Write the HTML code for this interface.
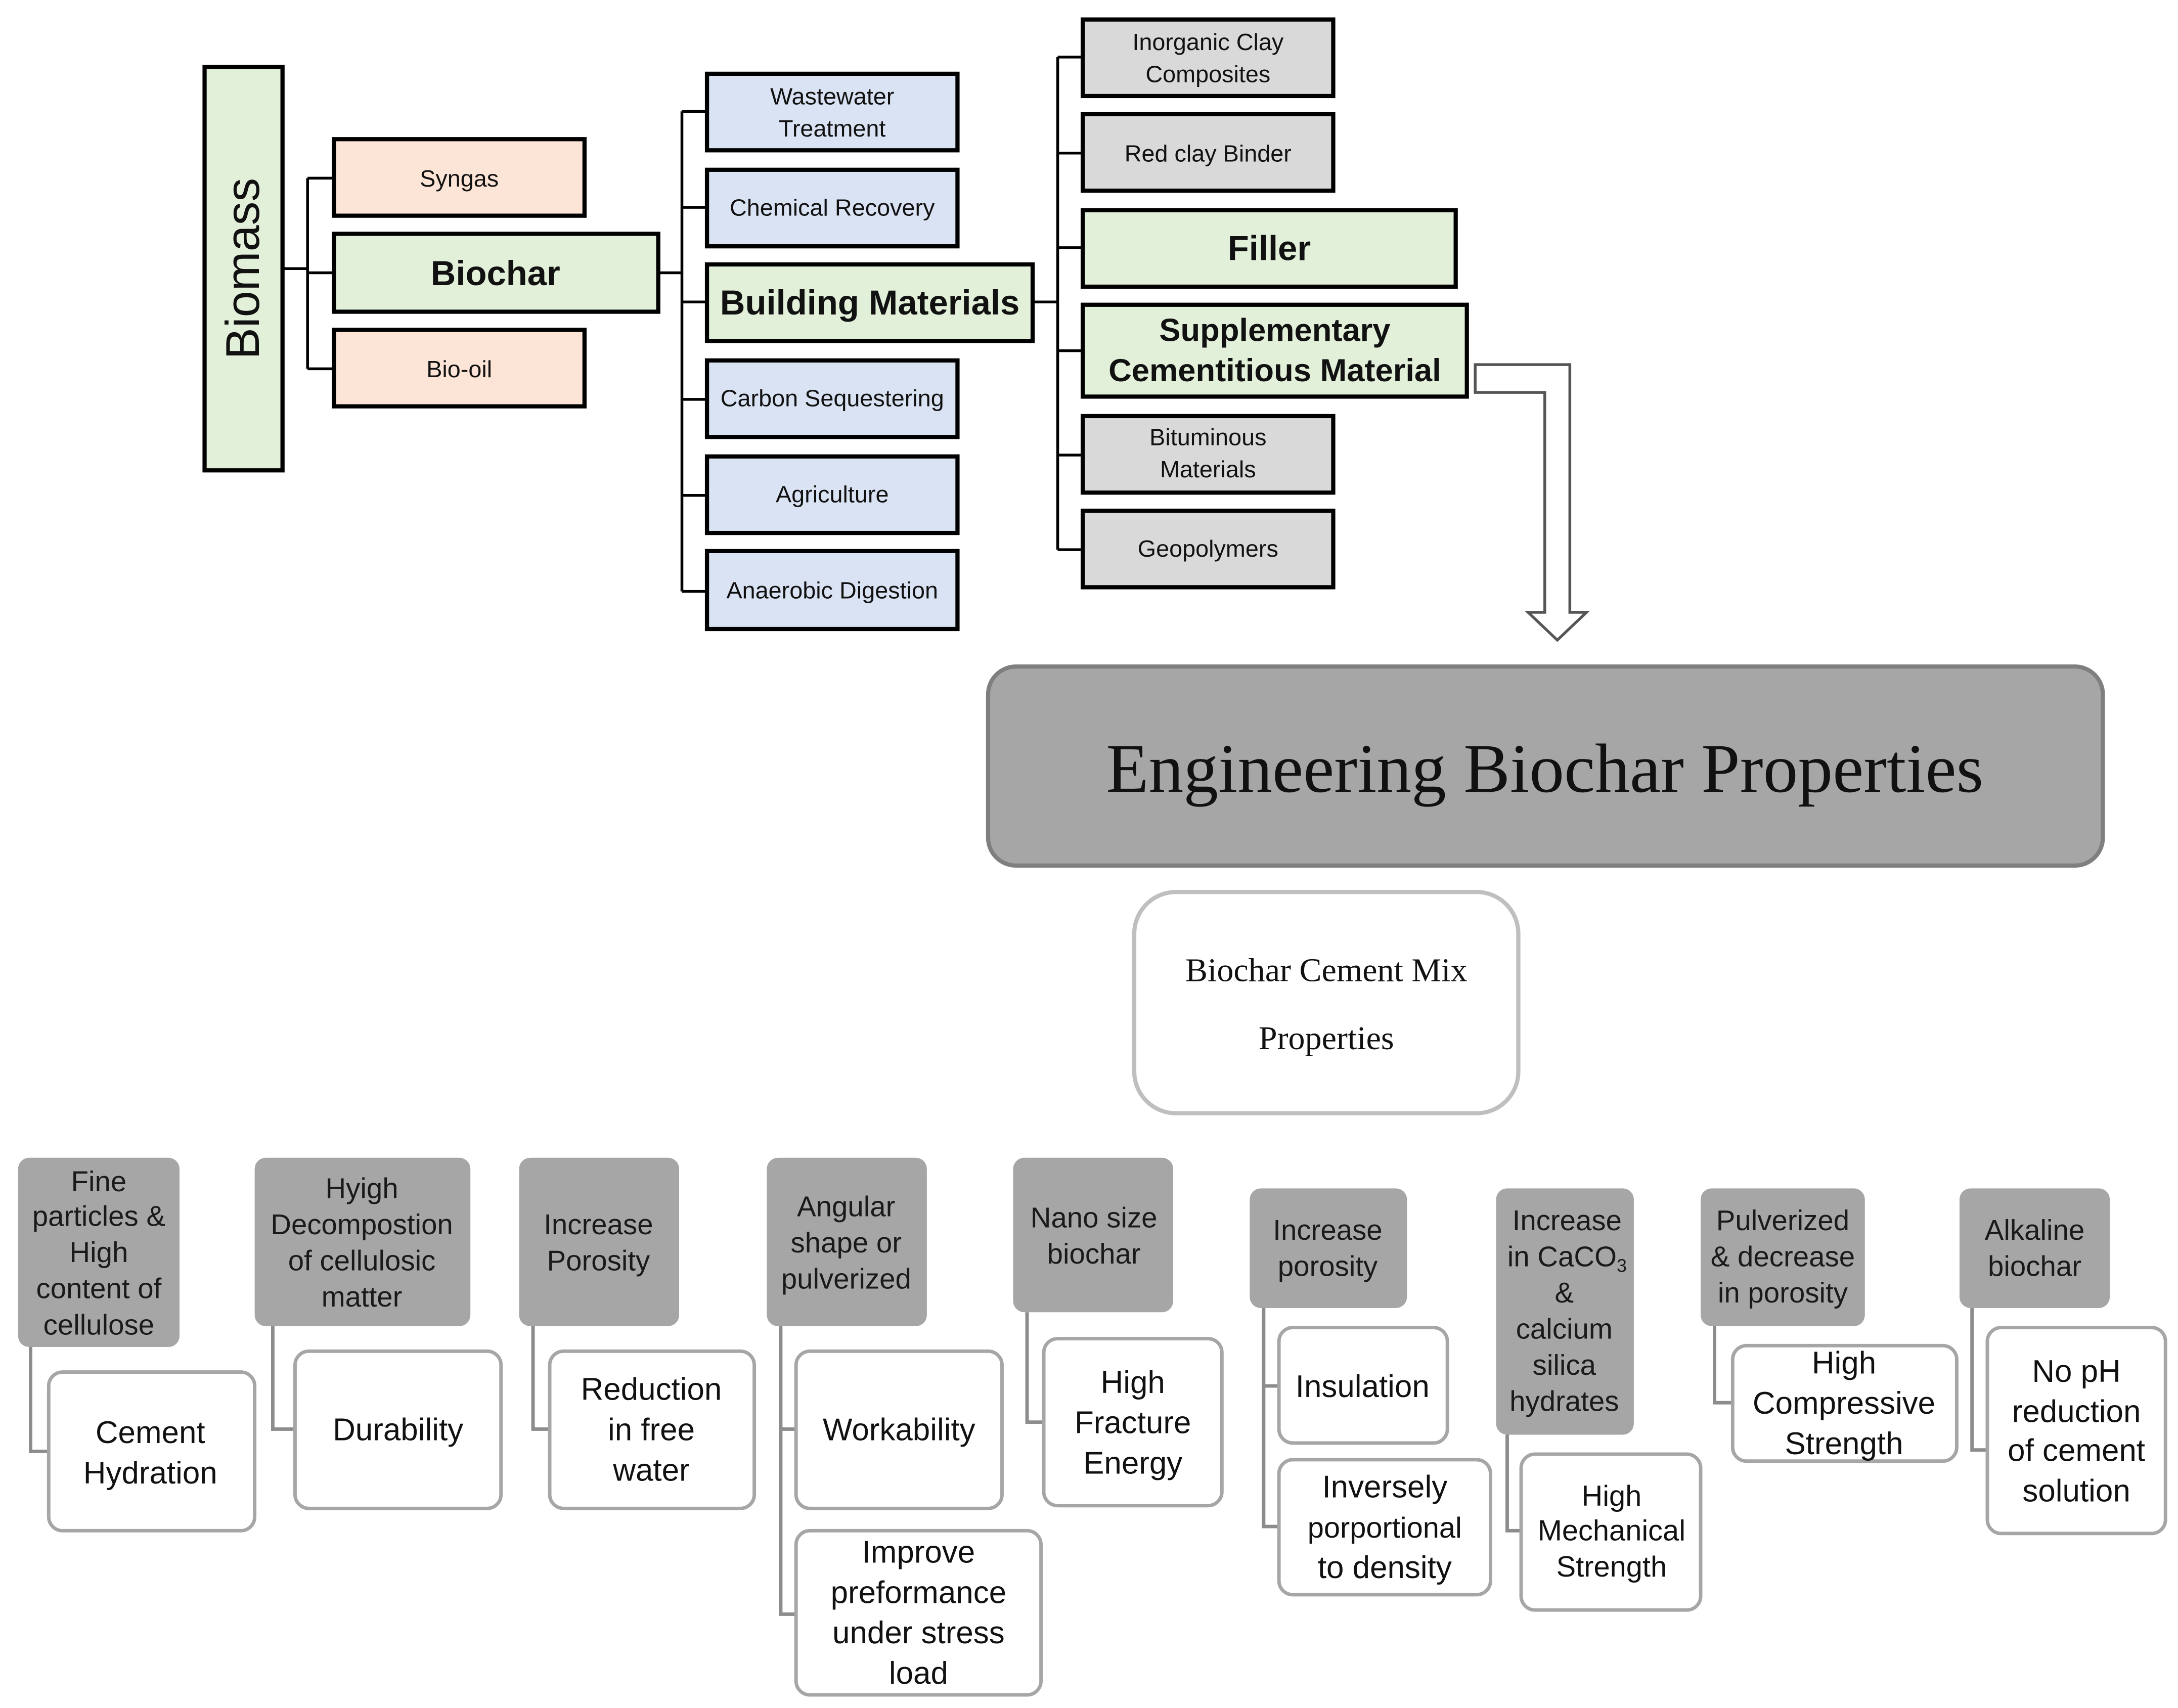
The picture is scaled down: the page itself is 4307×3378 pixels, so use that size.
<!DOCTYPE html>
<html><head><meta charset="utf-8"><style>
html,body{margin:0;padding:0;background:#fff}
svg{display:block}
text{font-family:"Liberation Sans",sans-serif;fill:#111}
.s{font-size:17px}
.b{font-size:25px;font-weight:bold}
.h{font-size:20.5px;fill:#1a1a1a}
.w{font-size:22.5px}
.serif{font-family:"Liberation Serif",serif}
</style></head><body>
<svg width="4307" height="3378" viewBox="0 0 1565 1227.4" xmlns="http://www.w3.org/2000/svg">
<g stroke="#000" stroke-width="2" fill="none">
<!-- level 1 connectors -->
<path d="M203 193H221M221 128V265M221 128H240M221 196H240M221 265H240"/>
<path d="M473 196H490M490 80V425M490 80H508M490 149H508M490 217H508M490 287H508M490 356H508M490 425H508"/>
<path d="M742 217H760M760 41V395M760 41H778M760 110H778M760 178H778M760 252H778M760 327H778M760 395H778"/>
</g>
<g stroke="#000" stroke-width="3">
<rect x="147" y="48" width="56" height="290" fill="#e2f0d9"/>
<rect x="240" y="100" width="180" height="55" fill="#fce4d6"/>
<rect x="240" y="168" width="233" height="56" fill="#e2f0d9"/>
<rect x="240" y="237" width="180" height="55" fill="#fce4d6"/>
<rect x="508" y="53" width="180" height="55" fill="#dae3f3"/>
<rect x="508" y="122" width="180" height="55" fill="#dae3f3"/>
<rect x="508" y="190" width="234" height="55" fill="#e2f0d9"/>
<rect x="508" y="259" width="180" height="55" fill="#dae3f3"/>
<rect x="508" y="328" width="180" height="55" fill="#dae3f3"/>
<rect x="508" y="396" width="180" height="56" fill="#dae3f3"/>
<rect x="778" y="14" width="180" height="55" fill="#d9d9d9"/>
<rect x="778" y="82" width="180" height="55" fill="#d9d9d9"/>
<rect x="778" y="151" width="268" height="55" fill="#e2f0d9"/>
<rect x="778" y="219" width="276" height="66" fill="#e2f0d9"/>
<rect x="778" y="299" width="180" height="55" fill="#d9d9d9"/>
<rect x="778" y="367" width="180" height="55" fill="#d9d9d9"/>
</g>
<text transform="translate(186 193) rotate(-90)" text-anchor="middle" font-size="34">Biomass</text>
<g text-anchor="middle">
<text x="330" y="134" class="s">Syngas</text>
<text x="356" y="205" class="b">Biochar</text>
<text x="330" y="271" class="s">Bio-oil</text>
<text x="598" y="75" class="s">Wastewater</text>
<text x="598" y="98" class="s">Treatment</text>
<text x="598" y="155" class="s">Chemical Recovery</text>
<text x="625" y="226" class="b">Building Materials</text>
<text x="598" y="292" class="s">Carbon Sequestering</text>
<text x="598" y="361" class="s">Agriculture</text>
<text x="598" y="430" class="s">Anaerobic Digestion</text>
<text x="868" y="36" class="s">Inorganic  Clay</text>
<text x="868" y="59" class="s">Composites</text>
<text x="868" y="116" class="s">Red clay Binder</text>
<text x="912" y="187" class="b">Filler</text>
<text x="916" y="245" font-size="23" font-weight="bold">Supplementary</text>
<text x="916" y="274" font-size="23" font-weight="bold">Cementitious Material</text>
<text x="868" y="320" class="s">Bituminous</text>
<text x="868" y="343" class="s">Materials</text>
<text x="868" y="400" class="s">Geopolymers</text>
</g>
<path d="M1060 262H1128V440H1140L1119 460L1098 440H1110V282H1060Z" fill="#fff" stroke="#555" stroke-width="2"/>
<rect x="710" y="479" width="801" height="143" rx="20" fill="#a6a6a6" stroke="#7f7f7f" stroke-width="3"/>
<text x="1110" y="569" text-anchor="middle" class="serif" font-size="50">Engineering Biochar Properties</text>
<rect x="815" y="641" width="276" height="159" rx="30" fill="#fff" stroke="#bfbfbf" stroke-width="3"/>
<text x="953" y="705" text-anchor="middle" class="serif" font-size="24">Biochar Cement Mix</text>
<text x="953" y="754" text-anchor="middle" class="serif" font-size="24">Properties</text>
<!-- bottom connectors -->
<g stroke="#8c8c8c" stroke-width="2.5" fill="none">
<path d="M22 968V1043H35"/>
<path d="M196 953V1027H212"/>
<path d="M383 953V1027H395"/>
<path d="M561 953V1160H572M561 1027H572"/>
<path d="M738 943V1022H750"/>
<path d="M908 940V1097H919M908 996H919"/>
<path d="M1083 1031V1100H1093"/>
<path d="M1232 953V1008H1245"/>
<path d="M1417 940V1042H1428"/>
</g>
<g fill="#a6a6a6">
<rect x="13" y="832" width="116" height="136" rx="8"/>
<rect x="183" y="832" width="155" height="121" rx="8"/>
<rect x="373" y="832" width="115" height="121" rx="8"/>
<rect x="551" y="832" width="115" height="121" rx="8"/>
<rect x="728" y="832" width="115" height="111" rx="8"/>
<rect x="898" y="854" width="113" height="86" rx="8"/>
<rect x="1075" y="854" width="99" height="177" rx="8"/>
<rect x="1222" y="854" width="118" height="99" rx="8"/>
<rect x="1408" y="854" width="108" height="86" rx="8"/>
</g>
<g fill="#fff" stroke="#a6a6a6" stroke-width="2.5">
<rect x="35" y="986" width="148" height="114" rx="10"/>
<rect x="212" y="971" width="148" height="113" rx="10"/>
<rect x="395" y="971" width="147" height="113" rx="10"/>
<rect x="572" y="971" width="148" height="113" rx="10"/>
<rect x="572" y="1100" width="176" height="118" rx="10"/>
<rect x="750" y="962" width="128" height="120" rx="10"/>
<rect x="919" y="954" width="121" height="83" rx="10"/>
<rect x="919" y="1049" width="152" height="97" rx="10"/>
<rect x="1093" y="1045" width="129" height="112" rx="10"/>
<rect x="1245" y="967" width="161" height="83" rx="10"/>
<rect x="1428" y="954" width="128" height="148" rx="10"/>
</g>
<g text-anchor="middle" class="h">
<text x="71" y="856" class="h">Fine</text><text x="71" y="881" class="h">particles &amp;</text><text x="71" y="907" class="h">High</text><text x="71" y="933" class="h">content of</text><text x="71" y="959" class="h">cellulose</text>
<text x="260" y="861" class="h">Hyigh</text><text x="260" y="887" class="h">Decompostion</text><text x="260" y="913" class="h">of cellulosic</text><text x="260" y="939" class="h">matter</text>
<text x="430" y="887" class="h">Increase</text><text x="430" y="913" class="h">Porosity</text>
<text x="608" y="874" class="h">Angular</text><text x="608" y="900" class="h">shape or</text><text x="608" y="926" class="h">pulverized</text>
<text x="786" y="882" class="h">Nano size</text><text x="786" y="908" class="h">biochar</text>
<text x="954" y="891" class="h">Increase</text><text x="954" y="917" class="h">porosity</text>
<text x="1126" y="884" class="h">Increase</text><text x="1126" y="910" class="h">in CaCO<tspan font-size="13" dy="4">3</tspan></text><text x="1124" y="936" class="h">&amp;</text><text x="1124" y="962" class="h">calcium</text><text x="1124" y="988" class="h">silica</text><text x="1124" y="1014" class="h">hydrates</text>
<text x="1281" y="884" class="h">Pulverized</text><text x="1281" y="910" class="h">&amp; decrease</text><text x="1281" y="936" class="h">in porosity</text>
<text x="1462" y="891" class="h">Alkaline</text><text x="1462" y="917" class="h">biochar</text>
</g>
<g text-anchor="middle">
<text x="108" y="1037" class="w">Cement</text><text x="108" y="1066" class="w">Hydration</text>
<text x="286" y="1035" class="w">Durability</text>
<text x="468" y="1006" class="w">Reduction</text><text x="468" y="1035" class="w">in free</text><text x="468" y="1064" class="w">water</text>
<text x="646" y="1035" class="w">Workability</text>
<text x="660" y="1123" class="w">Improve</text><text x="660" y="1152" class="w">preformance</text><text x="660" y="1181" class="w">under stress</text><text x="660" y="1210" class="w">load</text>
<text x="814" y="1001" class="w">High</text><text x="814" y="1030" class="w">Fracture</text><text x="814" y="1059" class="w">Energy</text>
<text x="979" y="1004" class="w">Insulation</text>
<text x="995" y="1076" class="w">Inversely</text><text x="995" y="1105" font-size="21">porportional</text><text x="995" y="1134" class="w">to density</text>
<text x="1158" y="1082" font-size="21">High</text><text x="1158" y="1107" font-size="21">Mechanical</text><text x="1158" y="1133" font-size="21">Strength</text>
<text x="1325" y="987" class="w">High</text><text x="1325" y="1016" class="w">Compressive</text><text x="1325" y="1045" class="w">Strength</text>
<text x="1492" y="993" class="w">No pH</text><text x="1492" y="1022" class="w">reduction</text><text x="1492" y="1050" class="w">of cement</text><text x="1492" y="1079" class="w">solution</text>
</g>
</svg>
</body></html>
